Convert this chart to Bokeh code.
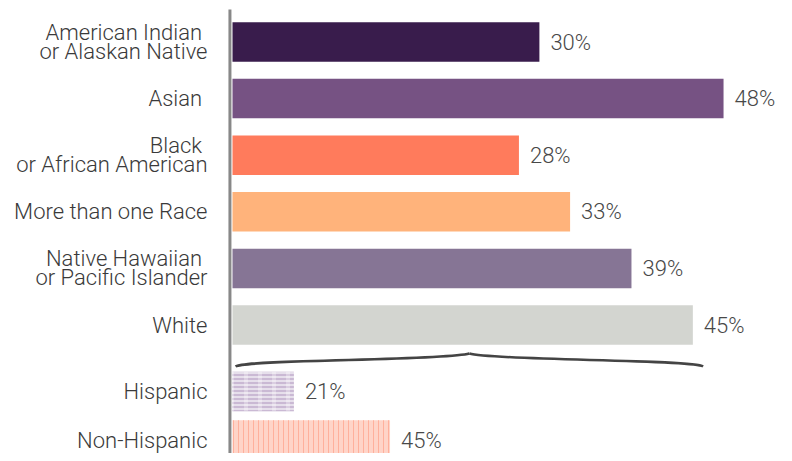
from bokeh.plotting import figure
from bokeh.models import Range1d, ColumnDataSource
from bokeh.core.properties import value
from bokeh.embed import file_html
from bokeh.resources import INLINE

# ---- data ----
race_labels = ["American Indian\u00a0\nor Alaskan Native", "Asian\u00a0", "Black\u00a0\nor African American",
               "More than one Race", "Native Hawaiian\u00a0\nor Pacific Islander", "White"]
race_values = [30, 48, 28, 33, 39, 45]
race_colors = ["#391c4c", "#765283", "#ff7b5c", "#ffb37b", "#867595", "#d3d5d0"]

eth_labels = ["Hispanic", "Non-Hispanic"]
eth_values = [21, 45]
eth_bar_len = [6.0, 15.4]

# ---- layout ----
W, H = 784, 453
SCALE = 10.23          # px per percent
ZERO_PX = 232          # canvas x of 0%
x_start = -ZERO_PX / SCALE
x_end = (W - ZERO_PX) / SCALE
FONT = value("'Roboto Light', Roboto, sans-serif")

p = figure(width=W, height=H, output_backend="svg", toolbar_location=None,
           x_range=Range1d(x_start, x_end), y_range=Range1d(H, 0),
           min_border=0, outline_line_color=None)
p.axis.visible = False
p.grid.visible = False
p.background_fill_color = "white"
p.border_fill_color = "white"

race_y = [41.5 + i * 56.6 for i in range(len(race_values))]
eth_y = [391, 439.5]
BAR_H = 39.5

src = ColumnDataSource(dict(y=race_y, v=race_values, c=race_colors))
p.hbar(y="y", left=0, right="v", height=BAR_H, fill_color="c", line_color=None, source=src)

# hatched ethnicity bars
p.hbar(y=[eth_y[0]], left=0, right=[eth_bar_len[0]], height=BAR_H, fill_color="#e6dfeb",
       line_color=None, hatch_pattern="horizontal_line", hatch_color="#c0accc",
       hatch_scale=4, hatch_weight=1.5)
p.hbar(y=[eth_y[0]], left=0, right=[eth_bar_len[0]], height=BAR_H, fill_alpha=0,
       line_color=None, hatch_pattern="vertical_line", hatch_color="#ffffff",
       hatch_scale=14, hatch_weight=4, hatch_alpha=0.3)
p.hbar(y=[eth_y[1]], left=0, right=[eth_bar_len[1]], height=BAR_H, fill_color="#ffd4c8",
       line_color=None, hatch_pattern="vertical_line", hatch_color="#ffb09c",
       hatch_scale=5, hatch_weight=1)

# axis line
p.segment(x0=[-0.25], x1=[-0.25], y0=[9], y1=[H], line_color="#888888", line_width=3)

# category labels
lx, ly, lt = [], [], []
for lab, yc in zip(race_labels + eth_labels, race_y + eth_y):
    lines = lab.split("\n")
    n = len(lines)
    for k, ln in enumerate(lines):
        lx.append(0)
        ly.append(yc + (k - (n - 1) / 2) * 19)
        lt.append(ln)
p.text(x=lx, y=ly, text=lt, x_offset=-25, text_align="right", text_baseline="middle",
       text_font=FONT, text_font_size="22px", text_color="#3a3a3a")

# value labels
p.text(x=race_values, y=race_y, text=[f"{v}%" for v in race_values], x_offset=11,
       text_align="left", text_baseline="middle", text_font=FONT,
       text_font_size="22px", text_color="#484848")
p.text(x=eth_bar_len, y=eth_y, text=[f"{v}%" for v in eth_values], x_offset=11,
       text_align="left", text_baseline="middle", text_font=FONT,
       text_font_size="22px", text_color="#484848")

# curly brace spanning the race bars
bx0, bx1 = 0.3, 46.0
bm = (bx0 + bx1) / 2
yb, ypk = 366, 353
p.bezier(x0=[bx0, bx1], y0=[yb, yb], x1=[bm, bm], y1=[ypk, ypk],
         cx0=[bx0 + 1.0, bx1 - 1.0], cy0=[358.5, 358.5],
         cx1=[bm - 2.5, bm + 2.5], cy1=[360.5, 360.5],
         line_color="#444444", line_width=2.6)

open("out.html", "w").write(file_html(p, INLINE))
